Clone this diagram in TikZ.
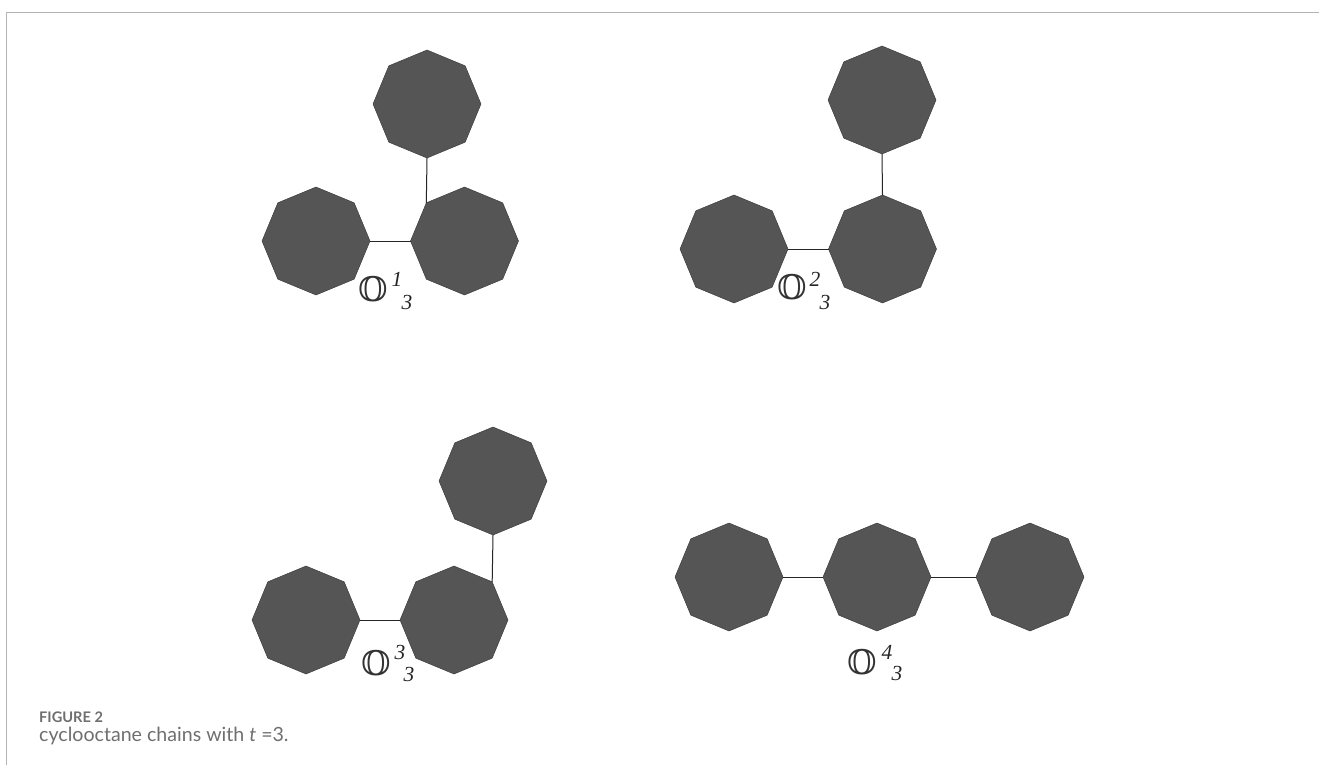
\documentclass[tikz,border=0pt]{standalone}
\usepackage{fontspec}
\setmainfont{Lato}
\newfontfamily\ser{Liberation Serif}
\newfontfamily\dbl{DejaVu Serif}
\definecolor{oct}{HTML}{555555}
\definecolor{capt}{HTML}{6F6F6F}
\definecolor{framec}{HTML}{B4B4B4}
\tikzset{x=1pt,y=-1pt,
 octa/.style={regular polygon,regular polygon sides=8,shape border rotate=22.5,minimum size=108pt,inner sep=0pt,outer sep=0pt,fill=oct,draw=black!80,line width=.4pt},
 bond/.style={draw=black!85,line width=1pt},
 dbb/.style={inner sep=0pt,font=\dbl\fontsize{34}{34}\selectfont,text=black!80},
 idx/.style={inner sep=0pt,font=\ser\itshape\fontsize{21.5}{21.5}\selectfont,text=black!85},
 capline/.style={inner sep=0pt,anchor=base west,text=capt}}
\usetikzlibrary{shapes.geometric}
\begin{document}
\begin{tikzpicture}
\useasboundingbox (0,0) rectangle (1319,765);
\fill[white] (0,0) rectangle (1319,765);
\draw[framec,line width=1pt] (6.5,765) -- (6.5,12.5) -- (1319,12.5);
% group 1
\node[octa] (a1) at (316,241) {};
\node[octa] (a2) at (464.5,241) {};
\node[octa] (a3) at (427,104) {};
\draw[bond] (a1.corner 7) -- (a2.corner 3);
\draw[bond] (a3.corner 5) -- (a2.corner 2);
\node[dbb] (al) at (373.5,289) {𝕆};
\node[idx] (as) at (397,279) {1};
\node[idx] (at) at (407,302) {3};
% group 2
\node[octa] (b1) at (734,249) {};
\node[octa] (b2) at (882.5,249) {};
\node[octa] (b3) at (882,100) {};
\draw[bond] (b1.corner 7) -- (b2.corner 3);
\draw[bond] (b3.corner 5) -- (b2.corner 1);
\node[dbb] (bl) at (792,287) {𝕆};
\node[idx] (bs) at (815,279) {2};
\node[idx] (bt) at (825,302) {3};
% group 3
\node[octa] (c1) at (306,620) {};
\node[octa] (c2) at (454,620) {};
\node[octa] (c3) at (493,481) {};
\draw[bond] (c1.corner 7) -- (c2.corner 3);
\draw[bond] (c3.corner 5) -- (c2.corner 8);
\node[dbb] (cl) at (376.7,663) {𝕆};
\node[idx] (cs) at (400,652) {3};
\node[idx] (ct) at (409,674) {3};
% group 4
\node[octa] (d1) at (729,577) {};
\node[octa] (d2) at (877,577) {};
\node[octa] (d3) at (1030,577) {};
\draw[bond] (d1.corner 7) -- (d2.corner 3);
\draw[bond] (d2.corner 7) -- (d3.corner 3);
\node[dbb] (dl) at (862.7,662) {𝕆};
\node[idx] (ds) at (887,652) {4};
\node[idx] (dt) at (897,673) {3};
% caption
\node[capline,font=\bfseries\fontsize{14.6}{14.6}\selectfont] (c) at (39,722) {FIGURE 2};
\node[capline,font=\fontsize{19.6}{19.6}\selectfont] (d) at (39,741) {cyclooctane chains with \textit{t} =3.};
\end{tikzpicture}
\end{document}
